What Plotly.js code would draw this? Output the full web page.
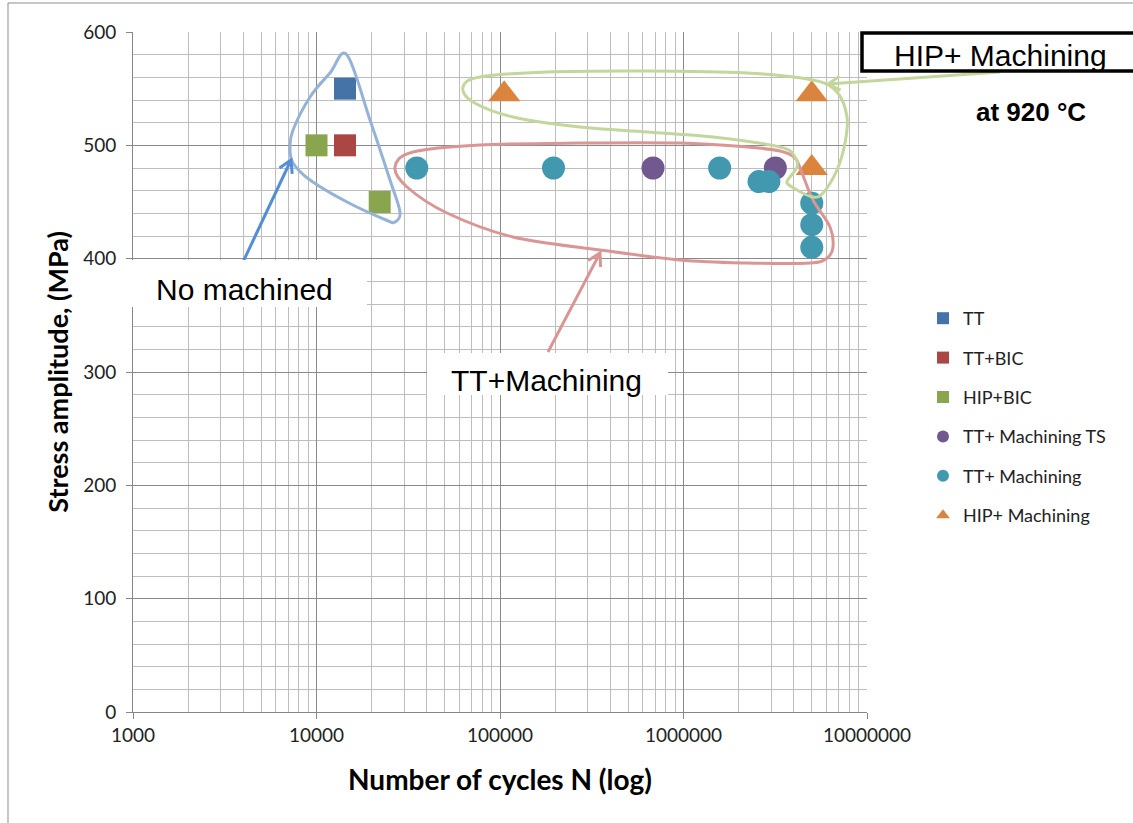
<!DOCTYPE html>
<html>
<head>
<meta charset="utf-8">
<script src="https://cdn.plot.ly/plotly-3.0.1.min.js"></script>
<style>
  html, body { margin: 0; padding: 0; background: #fff; }
  #chart { width: 1133px; height: 823px; }
</style>
</head>
<body>
<div id="chart"></div>
<script>
// ---- Data ----
const seriesNames = ["TT", "TT+BIC", "HIP+BIC", "TT+ Machining TS", "TT+ Machining", "HIP+ Machining"];
const cyclesTT = [14300];
const stressTT = [550];
const cyclesTTBIC = [14300];
const stressTTBIC = [500];
const cyclesHIPBIC = [10000, 22100];
const stressHIPBIC = [500, 450];
const cyclesTTMachTS = [682000, 3166000];
const stressTTMachTS = [480, 480];
const cyclesTTMach = [35200, 195700, 1574000, 2580000, 2920000, 5000000, 5000000, 5000000];
const stressTTMach = [480, 480, 480, 468, 468, 449, 430, 410];
const cyclesHIPMach = [105400, 5000000, 5000000];
const stressHIPMach = [545, 545, 480];
const xTickVals = [1000, 10000, 100000, 1000000, 10000000];
const xTickText = ["1000", "10000", "100000", "1000000", "10000000"];
const yTickVals = [0, 100, 200, 300, 400, 500, 600];

// ---- Layout geometry ----
const W = 1133, H = 823;
const M = { l: 133, r: 266, t: 32, b: 111 };
const PW = W - M.l - M.r, PH = H - M.t - M.b;
const px = x => (x - M.l) / PW;
const py = y => (H - M.b - y) / PH;

function smoothClosed(pts) {
  const n = pts.length;
  const P = i => pts[(i + n) % n];
  let d = "M " + px(P(0)[0]).toFixed(5) + "," + py(P(0)[1]).toFixed(5);
  for (let i = 0; i < n; i++) {
    const p0 = P(i - 1), p1 = P(i), p2 = P(i + 1), p3 = P(i + 2);
    const c1 = [p1[0] + (p2[0] - p0[0]) / 6, p1[1] + (p2[1] - p0[1]) / 6];
    const c2 = [p2[0] - (p3[0] - p1[0]) / 6, p2[1] - (p3[1] - p1[1]) / 6];
    d += " C " + px(c1[0]).toFixed(5) + "," + py(c1[1]).toFixed(5) + " " +
         px(c2[0]).toFixed(5) + "," + py(c2[1]).toFixed(5) + " " +
         px(p2[0]).toFixed(5) + "," + py(p2[1]).toFixed(5);
  }
  return d + " Z";
}
function arrowPath(tail, head, len) {
  const dx = head[0] - tail[0], dy = head[1] - tail[1];
  const L = Math.hypot(dx, dy);
  const bx = -dx / L, by = -dy / L;
  const c = Math.cos(Math.PI / 6), s = Math.sin(Math.PI / 6);
  const a1 = [head[0] + len * (bx * c - by * s), head[1] + len * (bx * s + by * c)];
  const a2 = [head[0] + len * (bx * c + by * s), head[1] + len * (-bx * s + by * c)];
  const f = p => px(p[0]).toFixed(5) + "," + py(p[1]).toFixed(5);
  return "M " + f(tail) + " L " + f(head) + " M " + f(a1) + " L " + f(head) + " L " + f(a2);
}

const blueLoop = [[347,55],[370,120],[390,180],[400,212],[395,222],[386,220],[347,202],[310,180],[293,163],[290,147],[293,130],[310,97],[330,73]];
const redLoop = [[395,167],[413,152],[480,145],[580,143],[680,143],[747,147],[780,151],[795,158],[802,173],[813,200],[830,227],[833,247],[827,258],[810,263],[747,263],[680,260],[600,250],[513,237],[447,213],[407,187]];
const greenLoop = [[463,87],[480,77],[547,72],[647,71],[747,73],[813,80],[837,92],[847,117],[845,143],[837,170],[823,193],[813,197],[797,190],[787,183],[790,177],[797,167],[795,157],[780,147],[713,137],[647,132],[580,127],[513,117],[473,102]];

const fontMain = "Lato, Carlito, 'Open Sans', sans-serif";
const fontArial = "Arial, 'Liberation Sans', sans-serif";

function trace(name, x, y, symbol, color, size) {
  return {
    type: "scatter", mode: "markers", name: name, x: x, y: y,
    legendgroup: name,
    marker: { symbol: symbol, color: color, size: size, line: { width: 0 } },
    cliponaxis: false
  };
}

const data = [
  trace(seriesNames[0], cyclesTT, stressTT, "square", "#4572a7", 22),
  trace(seriesNames[1], cyclesTTBIC, stressTTBIC, "square", "#aa4643", 22),
  trace(seriesNames[2], cyclesHIPBIC, stressHIPBIC, "square", "#89a54e", 22),
  trace(seriesNames[3], cyclesTTMachTS, stressTTMachTS, "circle", "#71588f", 23),
  trace(seriesNames[4], cyclesTTMach, stressTTMach, "circle", "#4198af", 23),
  trace(seriesNames[5], cyclesHIPMach, stressHIPMach, "triangle-up", "#db843d", 28)
];

const shapes = [
  { type: "rect", xref: "paper", yref: "paper", x0: px(8), x1: px(1145), y0: py(3), y1: py(840),
    line: { color: "#8c8c8c", width: 1 }, fillcolor: "rgba(0,0,0,0)", layer: "below" },
  { type: "path", xref: "paper", yref: "paper", path: smoothClosed(blueLoop), line: { color: "#95b3d7", width: 3 }, layer: "above" },
  { type: "path", xref: "paper", yref: "paper", path: smoothClosed(redLoop), line: { color: "#d99694", width: 3 }, layer: "above" },
  { type: "path", xref: "paper", yref: "paper", path: smoothClosed(greenLoop), line: { color: "#c3d69b", width: 3 }, layer: "above" },
  { type: "path", xref: "paper", yref: "paper", path: arrowPath([243,262],[291,160],14), line: { color: "#558ed5", width: 3 }, layer: "above" },
  { type: "path", xref: "paper", yref: "paper", path: arrowPath([548,352],[600,253],14), line: { color: "#d99694", width: 3 }, layer: "above" },
  { type: "path", xref: "paper", yref: "paper", path: arrowPath([1000,72],[828,84],14), line: { color: "#c3d69b", width: 3 }, layer: "above" },
  { type: "rect", xref: "paper", yref: "paper", x0: px(125), x1: px(367), y0: py(260), y1: py(307),
    line: { width: 0 }, fillcolor: "#ffffff", layer: "above" },
  { type: "rect", xref: "paper", yref: "paper", x0: px(427), x1: px(668), y0: py(353), y1: py(395),
    line: { width: 0 }, fillcolor: "#ffffff", layer: "above" },
  { type: "rect", xref: "paper", yref: "paper", x0: px(862), x1: px(1160), y0: py(33), y1: py(71),
    line: { color: "#000000", width: 3.5 }, fillcolor: "#ffffff", layer: "above" }
];

const annotations = [
  { xref: "paper", yref: "paper", x: px(244), y: py(289), text: "No machined", showarrow: false,
    xanchor: "center", yanchor: "middle", font: { family: fontArial, size: 30, color: "#000" } },
  { xref: "paper", yref: "paper", x: px(546), y: py(380), text: "TT+Machining", showarrow: false,
    xanchor: "center", yanchor: "middle", font: { family: fontArial, size: 30, color: "#000" } },
  { xref: "paper", yref: "paper", x: px(1000), y: py(56), text: "HIP+ Machining", showarrow: false,
    xanchor: "center", yanchor: "middle", font: { family: fontArial, size: 30, color: "#000" } },
  { xref: "paper", yref: "paper", x: px(1031), y: py(112), text: "at 920 °C", showarrow: false,
    xanchor: "center", yanchor: "middle", font: { family: fontArial, size: 26, color: "#000", weight: "bold" } }
];

const layout = {
  width: W, height: H,
  margin: M,
  paper_bgcolor: "#ffffff", plot_bgcolor: "#ffffff",
  showlegend: true,
  legend: {
    x: px(923), y: py(300), xanchor: "left", yanchor: "top",
    font: { family: fontMain, size: 18, color: "#222" },
    itemsizing: "constant", tracegroupgap: 13, bgcolor: "rgba(0,0,0,0)"
  },
  xaxis: {
    type: "log", range: [3, 7],
    tickvals: xTickVals, ticktext: xTickText,
    showgrid: true, gridcolor: "#8a8a8a", gridwidth: 1,
    minor: { dtick: "D1", showgrid: true, gridcolor: "#bdbdbd", gridwidth: 1, ticks: "" },
    showline: true, linecolor: "#868686", linewidth: 1,
    ticks: "outside", ticklen: 6, tickcolor: "#868686",
    tickfont: { family: fontMain, size: 19, color: "#222" },
    zeroline: false,
    title: { text: "Number of cycles N (log)", standoff: 25,
      font: { family: fontMain, size: 28, color: "#000", weight: "bold" } }
  },
  yaxis: {
    range: [0, 600], tickvals: yTickVals,
    showgrid: true, gridcolor: "#8a8a8a", gridwidth: 1,
    minor: { dtick: 20, showgrid: true, gridcolor: "#bdbdbd", gridwidth: 1, ticks: "" },
    showline: true, linecolor: "#868686", linewidth: 1,
    ticks: "outside", ticklen: 6, tickcolor: "#868686",
    ticklabelstandoff: 6,
    tickfont: { family: fontMain, size: 19, color: "#222" },
    zeroline: false,
    title: { text: "Stress amplitude, (MPa)", standoff: 6,
      font: { family: fontMain, size: 27, color: "#000", weight: "bold" } }
  },
  shapes: shapes,
  annotations: annotations
};

Plotly.newPlot("chart", data, layout, { displayModeBar: false, staticPlot: true });
</script>
</body>
</html>
